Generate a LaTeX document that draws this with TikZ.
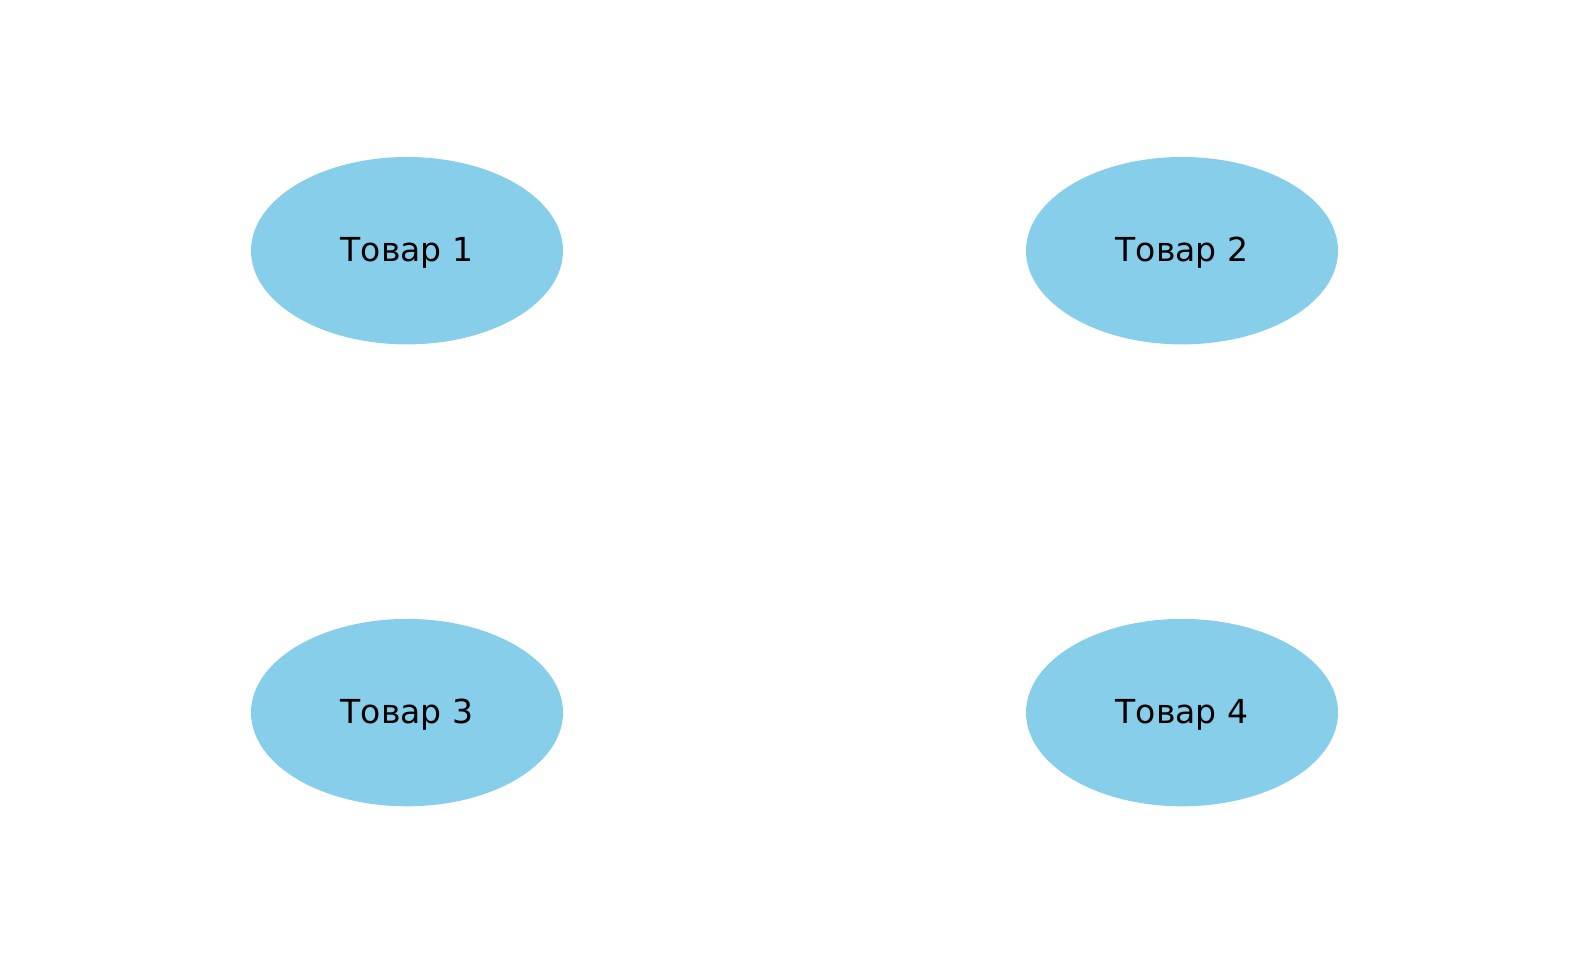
\documentclass[tikz,border=0pt]{standalone}
\usepackage{fontspec}
\setmainfont{DejaVu Sans}
\usetikzlibrary{shapes.geometric}
\definecolor{skyblue}{HTML}{87CEEB}
\tikzset{item/.style={ellipse, fill=skyblue, draw=none, minimum width=3.12cm, minimum height=1.874cm, inner sep=0pt, text height=0.29cm, text depth=0.07cm, font=\fontsize{9.4pt}{11pt}\selectfont}}
\begin{document}
\begin{tikzpicture}
\useasboundingbox (0,0) rectangle (15.89,9.64);
\node[item] (t1) at (4.07,7.133) {Товар 1};
\node[item] (t2) at (11.82,7.133) {Товар 2};
\node[item] (t3) at (4.07,2.514) {Товар 3};
\node[item] (t4) at (11.82,2.514) {Товар 4};
\end{tikzpicture}
\end{document}
